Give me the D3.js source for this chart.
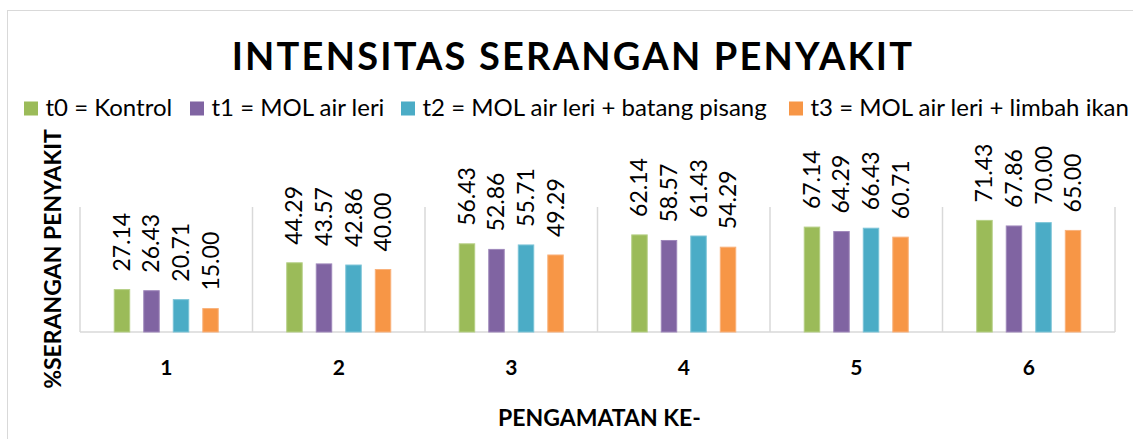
<!DOCTYPE html>
<html><head><meta charset="utf-8">
<script src="https://cdn.jsdelivr.net/npm/d3@7"></script>
<style>body{margin:0;background:#fff}svg{display:block}text{font-family:Lato,"Open Sans",sans-serif}</style>
</head><body><svg id="c" width="1133" height="439"></svg>
<script>
const categories = ["1","2","3","4","5","6"];
const seriesNames = ["t0 = Kontrol","t1 = MOL air leri","t2 = MOL air leri + batang pisang","t3 = MOL air leri + limbah ikan"];
const t0 = [27.14,44.29,56.43,62.14,67.14,71.43];
const t1 = [26.43,43.57,52.86,58.57,64.29,67.86];
const t2 = [20.71,42.86,55.71,61.43,66.43,70.00];
const t3 = [15.00,40.00,49.29,54.29,60.71,65.00];
const seriesValues = [t0,t1,t2,t3];
const colors = ["#9BBB59","#8064A2","#4BACC6","#F79646"];
const strokes = ["#b5cf85","#9f88bb","#7cc4d7","#f9b27c"];
const yDomain = [0,80];

const svg = d3.select("#c");
const m = {l:80, r:1115, t:207, b:332};
svg.append("rect").attr("x",7.5).attr("y",10.5).attr("width",1300).attr("height",600)
  .attr("fill","none").attr("stroke","#d9d9d9");

const x0 = d3.scaleBand().domain(categories).range([m.l,m.r]).padding(0);
const x1 = d3.scaleBand().domain(d3.range(4)).range([0,x0.bandwidth()]).paddingInner(0.476).paddingOuter(1.16);
const y = d3.scaleLinear().domain(yDomain).range([m.b,m.t]);

const bounds = categories.map(c=>x0(c)).concat([m.r]);
svg.append("g").selectAll("line").data(bounds).join("line")
  .attr("x1",d=>d).attr("x2",d=>d).attr("y1",y(yDomain[1])).attr("y2",y(0))
  .attr("stroke","#d9d9d9").attr("stroke-width",1.5);
svg.append("line").attr("x1",m.l).attr("x2",m.r).attr("y1",y(0)).attr("y2",y(0))
  .attr("stroke","#d9d9d9").attr("stroke-width",1.5);

const g = svg.append("g");
seriesValues.forEach((vals,si)=>{
  g.append("g").selectAll("rect").data(vals).join("rect")
    .attr("x",(d,i)=>x0(categories[i])+x1(si))
    .attr("y",d=>y(d))
    .attr("width",x1.bandwidth())
    .attr("height",d=>y(0)-y(d))
    .attr("fill",colors[si]).attr("stroke",strokes[si]).attr("stroke-width",1);
  g.append("g").selectAll("text").data(vals).join("text")
    .attr("transform",(d,i)=>`translate(${x0(categories[i])+x1(si)+x1.bandwidth()/2+8},${y(d)-18}) rotate(-90)`)
    .attr("font-size",23).attr("fill","#000").text(d=>d.toFixed(2));
});

svg.append("g").selectAll("text").data(categories).join("text")
  .attr("x",d=>x0(d)+x0.bandwidth()/2).attr("y",375).attr("text-anchor","middle")
  .attr("font-size",21).attr("font-weight","bold").text(d=>d);

svg.append("text").attr("x",(m.l+m.r)/2+2).attr("y",426).attr("text-anchor","middle")
  .attr("font-size",23).attr("font-weight","bold").text("PENGAMATAN KE-");
svg.append("text").attr("transform","translate(61,259) rotate(-90)").attr("text-anchor","middle")
  .attr("font-size",23).attr("font-weight","bold").text("%SERANGAN PENYAKIT");

svg.append("text").attr("x",573).attr("y",70).attr("text-anchor","middle")
  .attr("font-size",38).attr("font-weight","bold").attr("letter-spacing",2.2).text("INTENSITAS SERANGAN PENYAKIT");

const legX = [24,190,401,789];
const lg = svg.append("g");
seriesNames.forEach((n,i)=>{
  lg.append("rect").attr("x",legX[i]).attr("y",101.5).attr("width",14).attr("height",14).attr("fill",colors[i]);
  lg.append("text").attr("x",legX[i]+21.5).attr("y",116).attr("font-size",24).text(n);
});
</script></body></html>
